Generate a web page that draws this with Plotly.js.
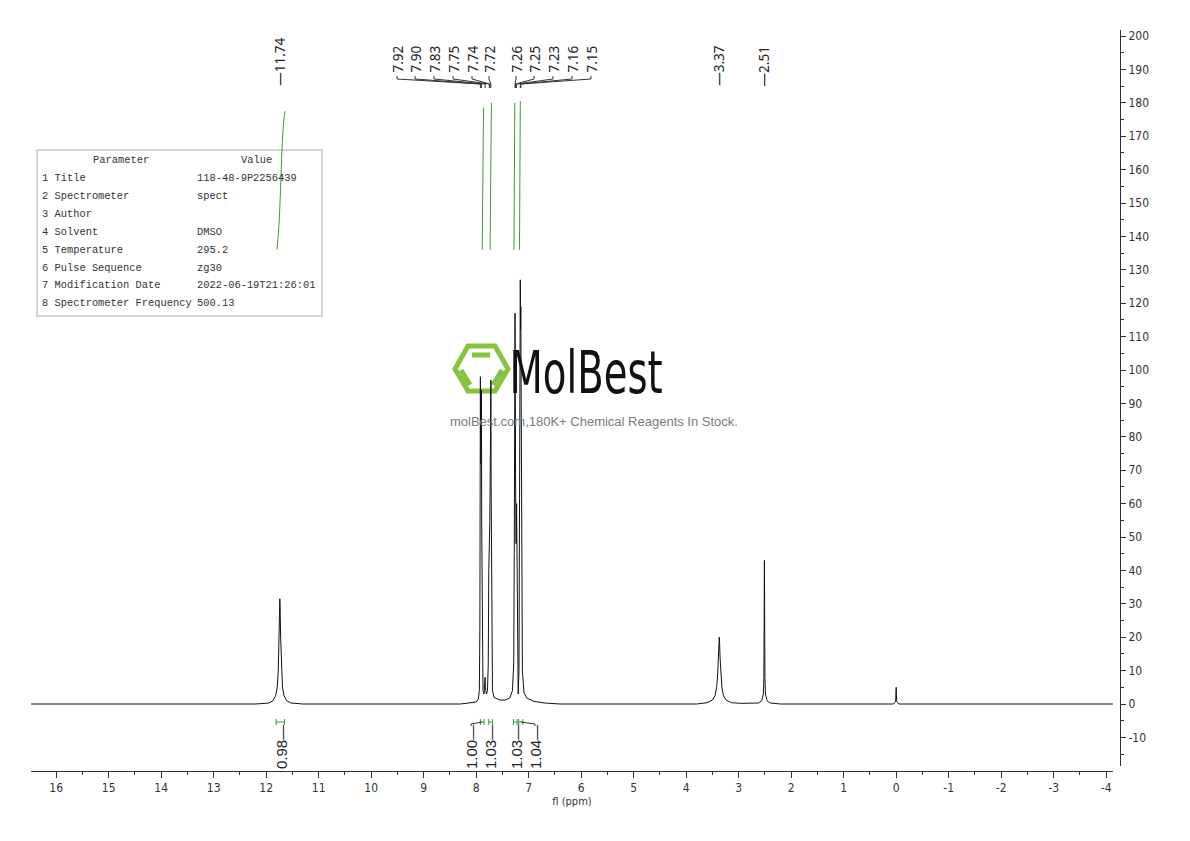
<!DOCTYPE html>
<html><head><meta charset="utf-8">
<script src="https://cdn.plot.ly/plotly-3.0.1.min.js"></script>
<style>html,body{margin:0;padding:0;background:#fff}#chart{width:1190px;height:841px}
.xtick text,.ytick text,.g-xtitle text{font-stretch:condensed;}
</style>
</head><body><div id="chart"></div>
<script>
// ---------- DATA ----------
const specPpm = [16.48,12.2,11.95,11.87,11.82,11.79,11.77,11.755,11.745,11.74,11.735,11.725,11.71,11.69,11.66,11.61,11.53,11.3,
 8.3,8.1,8.0,7.96,7.94,7.93,7.925,7.92,7.915,7.91,7.905,7.9,7.895,7.885,7.87,7.85,7.835,7.83,7.825,7.805,7.785,7.77,7.76,7.755,7.75,7.745,7.74,7.73,7.725,7.72,7.715,7.705,7.69,7.66,7.55,7.45,7.36,7.31,7.285,7.275,7.265,7.26,7.255,7.25,7.245,7.24,7.235,7.23,7.225,7.215,7.2,7.185,7.175,7.165,7.16,7.155,7.15,7.145,7.135,7.12,7.09,7.04,6.9,6.7,6.4,
 3.8,3.6,3.5,3.45,3.42,3.4,3.385,3.375,3.37,3.365,3.355,3.34,3.32,3.29,3.24,3.14,2.95,
 2.62,2.56,2.53,2.52,2.515,2.51,2.505,2.5,2.49,2.46,2.4,2.2,
 0.05,0.01,0.003,0,-0.003,-0.01,-0.05,-4.13];
const specVal = [0,0,0.3,1.0,2.5,5,10,20,29,31.5,29,20,10,5,2.5,1.0,0.3,0,
 0,0.3,0.6,1.5,4,22,70,98,80,72,85,94,55,12,4,3,6,8,5,3,4,12,40,53,50,53,55,75,92,97,65,15,4,2,1.2,1.2,1.8,4,12,45,100,117,95,69,55,48,55,60,42,12,3,10,60,119,127,112,119,85,30,10,3.5,1.8,0.8,0.3,0,
 0,0.4,1.2,2.5,5,9,14,19,20,19,14,9,5,2.5,1.2,0.4,0.2,
 0.3,1,3,8,25,43,25,8,3,1,0.3,0,
 0,0.8,3,5,3,0.8,0,0];

const xTickVals = [16,15,14,13,12,11,10,9,8,7,6,5,4,3,2,1,0,-1,-2,-3,-4];
const xTickText = ['16','15','14','13','12','11','10','9','8','7','6','5','4','3','2','1','0','-1','-2','-3','-4'];
const xMinorVals = [16.5,15.5,14.5,13.5,12.5,11.5,10.5,9.5,8.5,7.5,6.5,5.5,4.5,3.5,2.5,1.5,0.5,-0.5,-1.5,-2.5,-3.5];
const yTickVals = [-10,0,10,20,30,40,50,60,70,80,90,100,110,120,130,140,150,160,170,180,190,200];
const yTickText = ['-10','0','10','20','30','40','50','60','70','80','90','100','110','120','130','140','150','160','170','180','190','200'];
const yMinorVals = [-15,-5,5,15,25,35,45,55,65,75,85,95,105,115,125,135,145,155,165,175,185,195];

const singlePeaks = [11.74, 3.37, 2.51];
const multPeaksA = [7.92, 7.90, 7.83, 7.75, 7.74, 7.72];
const multPeaksB = [7.26, 7.25, 7.23, 7.16, 7.15];

const integralText = ['0.98','1.00','1.03','1.03','1.04'];
const integralFrom = [11.81, 7.92, 7.76, 7.29, 7.19];
const integralTo   = [11.65, 7.85, 7.69, 7.22, 7.11];

const intCurveX = [[11.794,11.756,11.727,11.699,11.670,11.642],[7.885,7.86],[7.735,7.71],[7.28,7.265],[7.175,7.16]];
const intCurveY = [[136.1,143.6,154.1,166.1,173.6,177.5],[136,178.5],[136,180],[136,180],[136,180.5]];

const paramNames = ['1 Title','2 Spectrometer','3 Author','4 Solvent','5 Temperature','6 Pulse Sequence','7 Modification Date','8 Spectrometer Frequency'];
const paramValues = ['118-48-9P2256439','spect','','DMSO','295.2','zg30','2022-06-19T21:26:01','500.13'];

// ---------- GEOMETRY (styling) ----------
const L=31, R=1120, T=30, B=771;
const XL=31, XR=1113, X0=16.48, X1=-4.13;
const fx = px => (px-L)/(R-L);
const fy = py => (B-py)/(B-T);
const ppmPx = p => XL + (X0-p)/(X0-X1)*(XR-XL);

const labelPxA = [397,415,434,453,472,489];
const labelPxB = [516,534,553,572,591];
const intLabelPx = [281,471,490,516,535];

const labelFont = {family:'Noto Sans, Open Sans, sans-serif', size:13.5, color:'#222'};
const tickFont = {family:'DejaVu Sans, sans-serif', size:12, color:'#333'};
const green = '#3a9a3a';

const traces = [{
  x: specPpm, y: specVal, type:'scatter', mode:'lines',
  line:{color:'#111', width:1}, hoverinfo:'skip', showlegend:false
}];
intCurveX.forEach((cx,i)=>traces.push({x:cx, y:intCurveY[i], type:'scatter', mode:'lines',
  line:{color:green, width:1, shape:'spline'}, hoverinfo:'skip', showlegend:false}));

const annotations = [];
const shapes = [];

singlePeaks.forEach(p=>annotations.push({xref:'paper',yref:'paper',x:fx(ppmPx(p)),y:fy(88),
  xanchor:'center',yanchor:'bottom',textangle:-90,showarrow:false,text:'\u2014'+p.toFixed(2),font:labelFont}));
function multi(peaks, pxs){
  peaks.forEach((p,i)=>{
    annotations.push({xref:'paper',yref:'paper',x:fx(pxs[i]),y:fy(75),xanchor:'center',yanchor:'bottom',
      textangle:-90,showarrow:false,text:p.toFixed(2),font:labelFont});
    const pp = ppmPx(p);
    shapes.push({type:'path',xref:'paper',yref:'paper',
      path:`M ${fx(pxs[i])} ${fy(76)} L ${fx(pxs[i])} ${fy(79)} L ${fx(pp)} ${fy(84)} L ${fx(pp)} ${fy(88)}`,
      line:{color:'#333',width:1}});
  });
}
multi(multPeaksA, labelPxA);
multi(multPeaksB, labelPxB);

integralText.forEach((t,i)=>{
  const a = integralFrom[i], b = integralTo[i];
  shapes.push({type:'line',xref:'x',yref:'paper',x0:a,x1:b,y0:fy(722),y1:fy(722),line:{color:green,width:1}});
  shapes.push({type:'line',xref:'x',yref:'paper',x0:a,x1:a,y0:fy(719),y1:fy(725),line:{color:green,width:1}});
  shapes.push({type:'line',xref:'x',yref:'paper',x0:b,x1:b,y0:fy(719),y1:fy(725),line:{color:green,width:1}});
  annotations.push({xref:'paper',yref:'paper',x:fx(intLabelPx[i]),y:fy(723),xanchor:'center',yanchor:'top',
    textangle:-90,showarrow:false,text:t+'\u2014',font:{family:'Liberation Sans, Arial, sans-serif',size:15,color:'#222'}});
  const mid = ppmPx((a+b)/2);
  if (Math.abs(mid-intLabelPx[i])>4){
    shapes.push({type:'path',xref:'paper',yref:'paper',
      path:`M ${fx(intLabelPx[i])} ${fy(726)} L ${fx(intLabelPx[i])} ${fy(724)} L ${fx(mid)} ${fy(722)}`,
      line:{color:'#333',width:1}});
  }
});

shapes.push({type:'rect',xref:'paper',yref:'paper',x0:fx(37),x1:fx(322),y0:fy(150),y1:fy(316),
  line:{color:'#c8c8c8',width:1.5},fillcolor:'#fff',layer:'below'});
const monoFont = {family:'Liberation Mono, DejaVu Sans Mono, monospace', size:10.4, color:'#333'};
annotations.push({xref:'paper',yref:'paper',x:fx(121),y:fy(160),xanchor:'center',yanchor:'middle',showarrow:false,text:'Parameter',font:monoFont});
annotations.push({xref:'paper',yref:'paper',x:fx(256),y:fy(160),xanchor:'center',yanchor:'middle',showarrow:false,text:'Value',font:monoFont});
paramNames.forEach((n,i)=>{
  const py = 178 + 17.9*i;
  annotations.push({xref:'paper',yref:'paper',x:fx(40),y:fy(py),xanchor:'left',yanchor:'middle',showarrow:false,text:n,font:monoFont});
  if (paramValues[i]) annotations.push({xref:'paper',yref:'paper',x:fx(195),y:fy(py),xanchor:'left',yanchor:'middle',showarrow:false,text:paramValues[i],font:monoFont});
});

const logoGreen = '#86c440';
const hex = [[455,369],[468,346],[495,346],[508,369],[495,391],[468,391]];
shapes.push({type:'path',xref:'paper',yref:'paper',layer:'below',
  path:'M '+hex.map(p=>fx(p[0])+' '+fy(p[1])).join(' L ')+' Z',line:{color:logoGreen,width:5}});
[[[472,355],[490,355]],[[461,370],[470,385]],[[502,370],[493,385]]].forEach(s=>{
  shapes.push({type:'line',xref:'paper',yref:'paper',layer:'below',x0:fx(s[0][0]),y0:fy(s[0][1]),x1:fx(s[1][0]),y1:fy(s[1][1]),
    line:{color:logoGreen,width:5}});
});
annotations.push({xref:'paper',yref:'paper',x:fx(496),y:fy(373),xanchor:'left',yanchor:'middle',showarrow:false,
  text:'MolBest',font:{family:'DejaVu Sans, sans-serif',size:58,color:'#111'}});
annotations.push({xref:'paper',yref:'paper',x:fx(594),y:fy(421),xanchor:'center',yanchor:'middle',showarrow:false,
  text:'molBest.com,180K+ Chemical Reagents In Stock.',font:{family:'Liberation Sans, Arial, sans-serif',size:13,color:'#7a7a7a'}});

const layout = {
  width:1190, height:841, paper_bgcolor:'#fff', plot_bgcolor:'rgba(0,0,0,0)',
  margin:{l:L, r:1190-R, t:T, b:841-B, pad:0},
  showlegend:false,
  xaxis:{domain:[0,(XR-L)/(R-L)], range:[X0,X1], anchor:'free', position:0,
    tickmode:'array', tickvals:xTickVals, ticktext:xTickText, ticks:'outside', ticklen:6, tickcolor:'#333',
    minor:{tickmode:'array', tickvals:xMinorVals, ticks:'outside', ticklen:3, tickcolor:'#333'},
    showline:true, linecolor:'#333', linewidth:1, showgrid:false, zeroline:false, tickfont:tickFont,
    title:{text:'fl (ppm)', font:{family:tickFont.family,size:11,color:'#333'}, standoff:2}},
  yaxis:{domain:[(B-766)/(B-T),1], range:[-18.56,201.8], anchor:'free', position:1, side:'right',
    tickmode:'array', tickvals:yTickVals, ticktext:yTickText, ticks:'outside', ticklen:5, tickcolor:'#333',
    minor:{tickmode:'array', tickvals:yMinorVals, ticks:'outside', ticklen:3, tickcolor:'#333'},
    showline:true, linecolor:'#333', linewidth:1, showgrid:false, zeroline:false, tickfont:tickFont},
  annotations, shapes
};
Plotly.newPlot('chart', traces, layout, {displayModeBar:false, staticPlot:true}).then(gd=>{
  gd.querySelectorAll('.annotation-text').forEach(el=>{
    if (el.textContent === 'MolBest'){
      el.style.fontStretch = 'condensed';
      el.style.transformBox = 'fill-box';
      el.style.transformOrigin = 'left center';
      el.style.transform = 'scaleX(0.74)';
    }
  });
});
</script></body></html>
